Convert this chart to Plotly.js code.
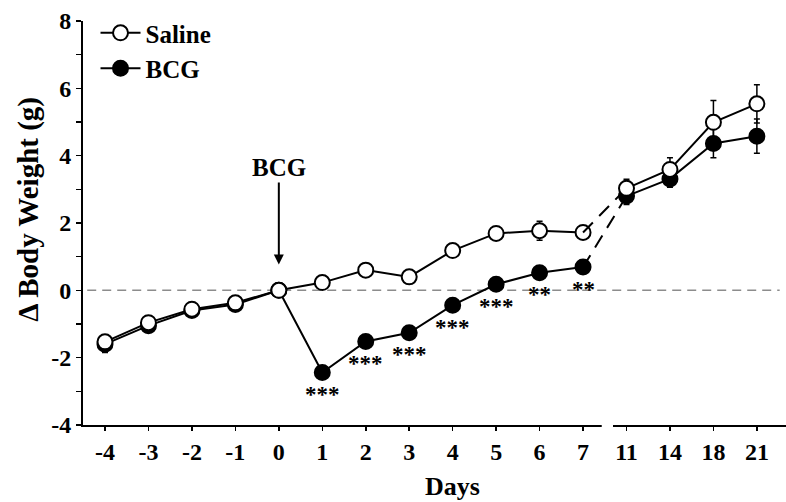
<!DOCTYPE html>
<html>
<head>
<meta charset="utf-8">
<script src="https://cdn.plot.ly/plotly-3.0.1.min.js"></script>
<style>html,body{margin:0;padding:0;background:#fff;}#chart{width:786px;height:502px;}</style>
</head>
<body>
<div id="chart"></div>
<script>
// ---- data ----
var days = ['-4','-3','-2','-1','0','1','2','3','4','5','6','7','11','14','18','21'];
var saline = [-1.53,-0.96,-0.56,-0.37,0.0,0.23,0.60,0.40,1.18,1.69,1.77,1.72,3.03,3.59,4.99,5.54];
var salineErr = [0.15,0.12,0.10,0.12,0.10,0.15,0.15,0.15,0.15,0.20,0.28,0.15,0.27,0.35,0.65,0.57];
var bcg = [-1.60,-1.05,-0.60,-0.42,0.0,-2.44,-1.52,-1.26,-0.44,0.18,0.52,0.69,2.80,3.31,4.36,4.58];
var bcgErr = [0.25,0.15,0.10,0.12,0.10,0.15,0.15,0.15,0.12,0.12,0.12,0.12,0.25,0.25,0.42,0.51];
var sigLabels = ['','','','','','***','***','***','***','***','**','**','','','',''];
var yTickVals = [-4,-2,0,2,4,6,8];
var yTickText = ['-4','-2','0','2','4','6','8'];
var breakAfter = 11;   // last index before the axis break (day 7)
var injectionDay = '0';

var FONT = 'Liberation Serif, Times New Roman, serif';

function seg(arr, a, b){ return arr.slice(a, b); }

function makeTraces(name, y, err, filled, showLeg){
  var mk = {symbol:'circle', size: 15, color: filled ? '#000' : '#fff', line:{color:'#000', width:2}};
  var eb = function(a,b){ return {type:'data', array: seg(err,a,b), visible:true, color:'#000', thickness:1.5, width:3}; };
  return [
    {x: seg(days,0,breakAfter+1), y: seg(y,0,breakAfter+1), name: name, mode:'lines+markers',
     line:{color:'#000', width:2}, marker: mk, error_y: eb(0,breakAfter+1), showlegend: showLeg, legendgroup:name},
    {x: seg(days,breakAfter,breakAfter+2), y: seg(y,breakAfter,breakAfter+2), mode:'lines',
     line:{color:'#000', width:2, dash:'14px,9px'}, showlegend:false, legendgroup:name},
    {x: seg(days,breakAfter+1,days.length), y: seg(y,breakAfter+1,days.length), mode:'lines+markers',
     line:{color:'#000', width:2}, marker: mk, error_y: eb(breakAfter+1,days.length), showlegend:false, legendgroup:name}
  ];
}

var traces = [].concat(makeTraces('BCG', bcg, bcgErr, true, true), makeTraces('Saline', saline, salineErr, false, true));

var annotations = [];
for (var i = 0; i < days.length; i++) {
  if (sigLabels[i]) {
    annotations.push({x: i, y: bcg[i], xref:'x', yref:'y', text: sigLabels[i], showarrow:false,
      xanchor:'center', yanchor:'middle', yshift:-22, font:{family:FONT, size:23, color:'#000', weight:'bold'}});
  }
}
var injIdx = days.indexOf(injectionDay);
annotations.push({x: injIdx, y:0.77, xref:'x', yref:'y', text:'<b>BCG</b>', showarrow:true, ax:0, ay:-97,
  arrowhead:2, arrowsize:1, arrowwidth:2, arrowcolor:'#000', font:{family:FONT, size:25, color:'#000'}});
annotations.push({xref:'paper', yref:'paper', x:-0.0768, y:0.533, xanchor:'center', yanchor:'middle',
  text:'<b>Δ Body Weight (g)</b>', textangle:-90, showarrow:false, font:{family:FONT, size:29, color:'#000'}});
annotations.push({xref:'paper', yref:'paper', x:0.525, y:-0.153, xanchor:'center', yanchor:'middle',
  text:'<b>Days</b>', showarrow:false, font:{family:FONT, size:26, color:'#000'}});

var layout = {
  width: 786, height: 502,
  margin: {l:83, r:0, t:21, b:77},
  paper_bgcolor:'#fff', plot_bgcolor:'#fff',
  font: {family: FONT, color:'#000'},
  showlegend: true,
  legend: {x:0.0178, y:1.027, xanchor:'left', yanchor:'top', bgcolor:'rgba(0,0,0,0)',
    font:{family:FONT, size:25, color:'#000', weight:'bold'}, traceorder:'reversed', tracegroupgap:0, itemwidth:40},
  xaxis: {type:'category', range:[-0.506, 15.67], showgrid:false, zeroline:false,
    showline:true, linewidth:2, linecolor:'#000', ticks:'outside', ticklen:4, tickwidth:1.5, tickcolor:'#000',
    tickfont:{family:FONT, size:24, color:'#000', weight:'bold'}},
  yaxis: {range:[-4, 8], showgrid:false, zeroline:false, showline:true, linewidth:2, linecolor:'#000',
    tickvals: yTickVals, ticktext: yTickText, ticks:'outside', ticklen:5, tickwidth:1.5, tickcolor:'#000',
    minor:{dtick:1, ticks:'outside', ticklen:5, tickwidth:1.5, tickcolor:'#000', showgrid:false},
    tickfont:{family:FONT, size:24, color:'#000', weight:'bold'}},
  shapes: [
    {type:'line', xref:'paper', yref:'y', x0:0.006, x1:0.991, y0:0, y1:0, layer:'below',
     line:{color:'#8c8c8c', width:1.5, dash:'9px,6px'}},
    {type:'rect', xref:'x', yref:'paper', x0:11.43, x1:11.69, y0:-0.03, y1:0.01, layer:'above',
     fillcolor:'#fff', line:{width:0}}
  ],
  annotations: annotations
};

Plotly.newPlot('chart', traces, layout, {staticPlot:true, displayModeBar:false});
</script>
</body>
</html>
